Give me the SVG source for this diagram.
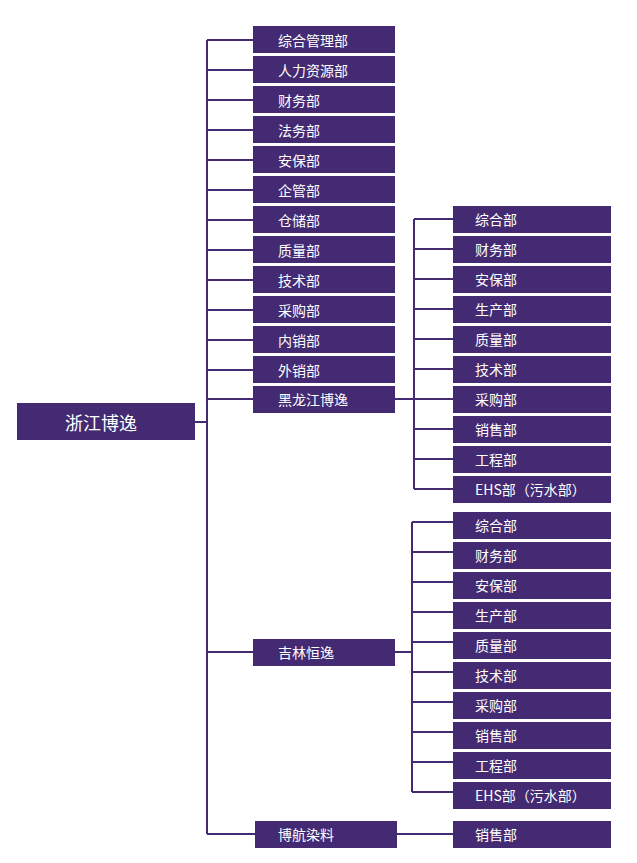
<svg xmlns="http://www.w3.org/2000/svg" width="637" height="863" viewBox="0 0 637 863">
<style>
.b{fill:#432A72}
.t{fill:#fff;font-family:"Noto Sans CJK SC","Noto Sans",sans-serif;font-size:14px;dominant-baseline:central}
.c{stroke:#432A72;stroke-width:2;fill:none}
</style>
<rect width="637" height="863" fill="#fff"/>
<g id="connectors" class="c">
<path d="M195 422H207M207 40V834"/>
<path d="M207 40H253M207 70H253M207 100H253M207 130H253M207 160H253M207 190H253M207 220H253M207 250H253M207 280H253M207 310H253M207 340H253M207 370H253M207 399H253M207 652H253M207 834H255"/>
<path d="M395 399H414M414 219V489M414 219H453M414 249H453M414 279H453M414 309H453M414 339H453M414 369H453M414 399H453M414 429H453M414 459H453M414 489H453"/>
<path d="M395 652H412M412 522V792M412 522H453M412 552H453M412 582H453M412 612H453M412 642H453M412 672H453M412 702H453M412 732H453M412 762H453M412 792H453"/>
<path d="M397 834H453"/>
</g>
<g id="root"><rect class="b" x="17" y="403" width="178" height="37"/><text class="t" x="65" y="422" style="font-size:18px">浙江博逸</text></g>
<g id="l1"><rect class="b" x="253" y="26" width="142" height="27"/><text class="t" x="278" y="40">综合管理部</text></g>
<g id="l2"><rect class="b" x="253" y="56" width="142" height="27"/><text class="t" x="278" y="70">人力资源部</text></g>
<g id="l3"><rect class="b" x="253" y="86" width="142" height="27"/><text class="t" x="278" y="100">财务部</text></g>
<g id="l4"><rect class="b" x="253" y="116" width="142" height="27"/><text class="t" x="278" y="130">法务部</text></g>
<g id="l5"><rect class="b" x="253" y="146" width="142" height="27"/><text class="t" x="278" y="160">安保部</text></g>
<g id="l6"><rect class="b" x="253" y="176" width="142" height="27"/><text class="t" x="278" y="190">企管部</text></g>
<g id="l7"><rect class="b" x="253" y="206" width="142" height="27"/><text class="t" x="278" y="220">仓储部</text></g>
<g id="l8"><rect class="b" x="253" y="236" width="142" height="27"/><text class="t" x="278" y="250">质量部</text></g>
<g id="l9"><rect class="b" x="253" y="266" width="142" height="27"/><text class="t" x="278" y="280">技术部</text></g>
<g id="l10"><rect class="b" x="253" y="296" width="142" height="27"/><text class="t" x="278" y="310">采购部</text></g>
<g id="l11"><rect class="b" x="253" y="326" width="142" height="27"/><text class="t" x="278" y="340">内销部</text></g>
<g id="l12"><rect class="b" x="253" y="356" width="142" height="27"/><text class="t" x="278" y="370">外销部</text></g>
<g id="hlj"><rect class="b" x="253" y="386" width="142" height="27"/><text class="t" x="278" y="399">黑龙江博逸</text></g>
<g id="jl"><rect class="b" x="253" y="639" width="142" height="27"/><text class="t" x="278" y="652">吉林恒逸</text></g>
<g id="bh"><rect class="b" x="255" y="821" width="142" height="27"/><text class="t" x="278" y="834">博航染料</text></g>
<g id="h1"><rect class="b" x="453" y="206" width="158" height="27"/><text class="t" x="475" y="219">综合部</text></g>
<g id="h2"><rect class="b" x="453" y="236" width="158" height="27"/><text class="t" x="475" y="249">财务部</text></g>
<g id="h3"><rect class="b" x="453" y="266" width="158" height="27"/><text class="t" x="475" y="279">安保部</text></g>
<g id="h4"><rect class="b" x="453" y="296" width="158" height="27"/><text class="t" x="475" y="309">生产部</text></g>
<g id="h5"><rect class="b" x="453" y="326" width="158" height="27"/><text class="t" x="475" y="339">质量部</text></g>
<g id="h6"><rect class="b" x="453" y="356" width="158" height="27"/><text class="t" x="475" y="369">技术部</text></g>
<g id="h7"><rect class="b" x="453" y="386" width="158" height="27"/><text class="t" x="475" y="399">采购部</text></g>
<g id="h8"><rect class="b" x="453" y="416" width="158" height="27"/><text class="t" x="475" y="429">销售部</text></g>
<g id="h9"><rect class="b" x="453" y="446" width="158" height="27"/><text class="t" x="475" y="459">工程部</text></g>
<g id="h10"><rect class="b" x="453" y="476" width="158" height="27"/><text class="t" x="475" y="489">EHS部（污水部）</text></g>
<g id="j1"><rect class="b" x="453" y="512" width="158" height="27"/><text class="t" x="475" y="525">综合部</text></g>
<g id="j2"><rect class="b" x="453" y="542" width="158" height="27"/><text class="t" x="475" y="555">财务部</text></g>
<g id="j3"><rect class="b" x="453" y="572" width="158" height="27"/><text class="t" x="475" y="585">安保部</text></g>
<g id="j4"><rect class="b" x="453" y="602" width="158" height="27"/><text class="t" x="475" y="615">生产部</text></g>
<g id="j5"><rect class="b" x="453" y="632" width="158" height="27"/><text class="t" x="475" y="645">质量部</text></g>
<g id="j6"><rect class="b" x="453" y="662" width="158" height="27"/><text class="t" x="475" y="675">技术部</text></g>
<g id="j7"><rect class="b" x="453" y="692" width="158" height="27"/><text class="t" x="475" y="705">采购部</text></g>
<g id="j8"><rect class="b" x="453" y="722" width="158" height="27"/><text class="t" x="475" y="735">销售部</text></g>
<g id="j9"><rect class="b" x="453" y="752" width="158" height="27"/><text class="t" x="475" y="765">工程部</text></g>
<g id="j10"><rect class="b" x="453" y="782" width="158" height="27"/><text class="t" x="475" y="795">EHS部（污水部）</text></g>
<g id="b1"><rect class="b" x="453" y="821" width="158" height="27"/><text class="t" x="475" y="834">销售部</text></g>
</svg>
